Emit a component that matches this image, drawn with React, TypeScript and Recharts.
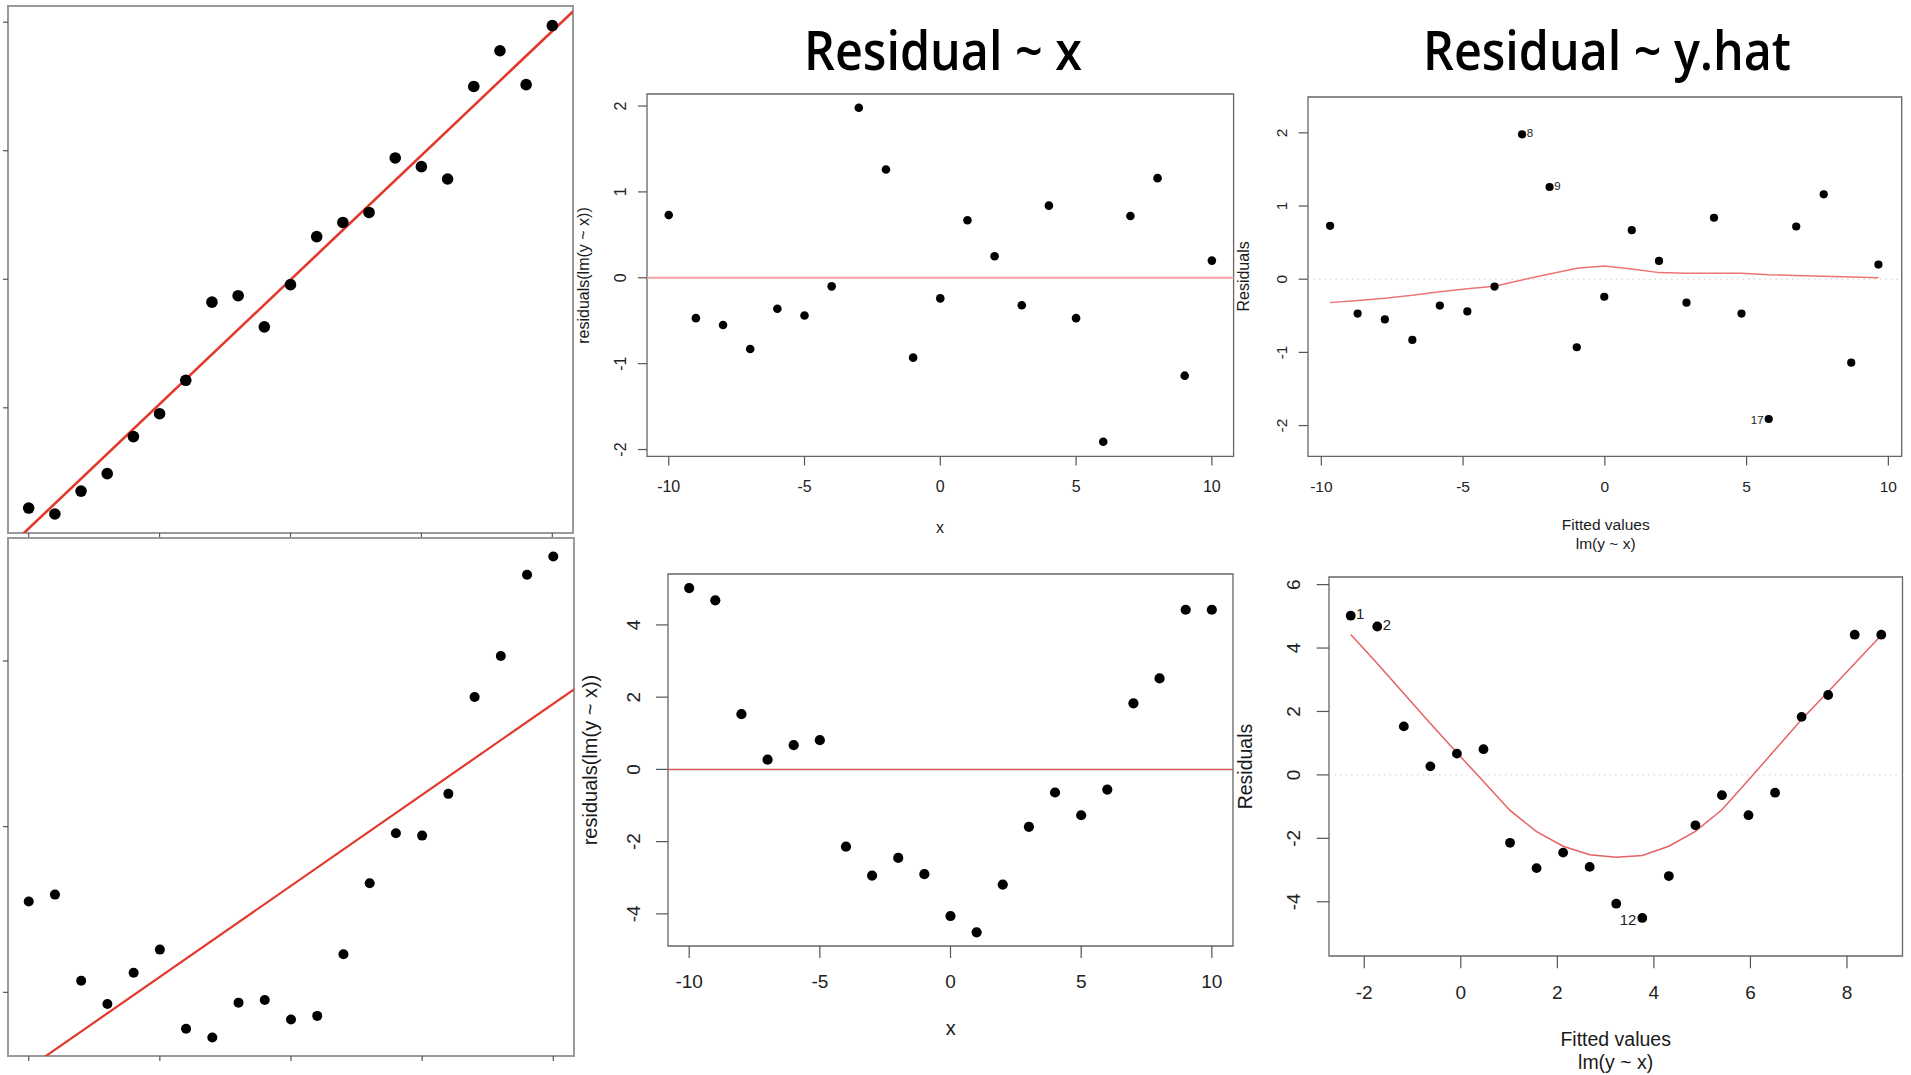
import React from "react";
import { ScatterChart, Scatter, XAxis, YAxis, ReferenceLine, ReferenceArea } from "recharts";

const FONT = '"Liberation Sans", Arial, Helvetica, sans-serif';
const TITLE_FONT = '"Open Sans", "DejaVu Sans", sans-serif';

// 21 observations, x = -10 .. 10
const xValues = [-10, -9, -8, -7, -6, -5, -4, -3, -2, -1, 0, 1, 2, 3, 4, 5, 6, 7, 8, 9, 10];

// --- linear case (top row) ---
const yLinear = [-8.9, -9.13, -8.24, -7.56, -6.12, -5.23, -3.93, -0.89, -0.64, -1.85, -0.21, 1.66, 2.21, 2.6, 4.72, 4.38, 3.9, 7.5, 8.89, 7.57, 9.87];
const fittedLinear = [-9.69, -8.72, -7.76, -6.79, -5.82, -4.85, -3.89, -2.92, -1.95, -0.99, -0.02, 0.95, 1.91, 2.88, 3.85, 4.82, 5.78, 6.75, 7.72, 8.69, 9.65];
const residLinear = [0.73, -0.47, -0.55, -0.83, -0.36, -0.44, -0.1, 1.98, 1.26, -0.93, -0.24, 0.67, 0.25, -0.32, 0.84, -0.47, -1.91, 0.72, 1.16, -1.14, 0.2];
const loessLinear = [-0.32, -0.29, -0.26, -0.22, -0.17, -0.13, -0.095, -0.01, 0.07, 0.15, 0.18, 0.14, 0.09, 0.08, 0.08, 0.08, 0.06, 0.05, 0.04, 0.03, 0.02];
const linearFit = { intercept: -0.02, slope: 0.9675 };
const flaggedLinear = [8, 9, 17];
const leftTagLinear = [17];

// --- quadratic case (bottom row) ---
const yQuad = [2.74, 2.95, 0.35, -0.35, 0.59, 1.29, -1.1, -1.36, -0.31, -0.23, -0.82, -0.71, 1.15, 3.29, 4.8, 4.73, 5.99, 8.91, 10.15, 12.6, 13.15];
const fittedQuad = [-2.28, -1.73, -1.18, -0.63, -0.08, 0.47, 1.02, 1.57, 2.12, 2.67, 3.22, 3.76, 4.31, 4.86, 5.41, 5.96, 6.51, 7.06, 7.61, 8.16, 8.71];
const residQuad = [5.02, 4.68, 1.53, 0.27, 0.67, 0.81, -2.14, -2.94, -2.45, -2.9, -4.06, -4.51, -3.19, -1.59, -0.64, -1.27, -0.56, 1.83, 2.52, 4.42, 4.42];
const loessQuad = [4.43, 3.51, 2.57, 1.62, 0.7, -0.21, -1.12, -1.79, -2.25, -2.52, -2.6, -2.54, -2.25, -1.78, -1.1, -0.16, 0.79, 1.75, 2.62, 3.51, 4.4];
const quadFit = { intercept: 3.215, slope: 0.5495 };
const flaggedQuad = [1, 2, 12];
const leftTagQuad = [12];

const ticksX10 = [-10, -5, 0, 5, 10];
const ticksFitQuad = [-2, 0, 2, 4, 6, 8];

const toPoints = (xs: number[], ys: number[], flagged: number[] = [], leftSide: number[] = []) =>
  xs.map((x, i) => ({
    x,
    y: ys[i],
    tag: flagged.includes(i + 1) ? String(i + 1) : "",
    left: leftSide.includes(i + 1),
  }));

const XTick = (props: any) => {
  const { x, y, payload, fs, show } = props;
  if (!show) return <g />;
  return (
    <text x={x} y={y + fs * 0.72} textAnchor="middle" fontSize={fs} fontFamily={FONT} fill="#222">
      {payload.value}
    </text>
  );
};

const YTick = (props: any) => {
  const { x, y, payload, fs, show } = props;
  if (!show) return <g />;
  return (
    <text x={x} y={y} transform={`rotate(-90 ${x} ${y})`} textAnchor="middle" fontSize={fs} fontFamily={FONT} fill="#222">
      {payload.value}
    </text>
  );
};

const dot = (r: number, tagFs = 12) => (props: any) => {
  const { cx, cy, payload } = props;
  return (
    <g>
      <circle cx={cx} cy={cy} r={r} fill="#000" />
      {payload.tag ? (
        <text
          x={payload.left ? cx - r - 1 : cx + r + 0.5}
          y={cy + (payload.left ? tagFs * 0.45 : tagFs * 0.25)}
          textAnchor={payload.left ? "end" : "start"}
          fontSize={tagFs}
          fontFamily={FONT}
          fill="#222"
        >
          {payload.tag}
        </text>
      ) : null}
    </g>
  );
};

const noShape = () => <g />;

type PanelProps = {
  box: { left: number; top: number; right: number; bottom: number };
  xDomain: [number, number];
  yDomain: [number, number];
  xTicks: number[];
  yTicks: number[];
  tickLen: number;
  fs: number;
  xGap: number;
  yGap: number;
  labels: boolean;
  frameColor: string;
  frameWidth: number;
  children: React.ReactNode;
};

const Panel = ({ box, xDomain, yDomain, xTicks, yTicks, tickLen, fs, xGap, yGap, labels, frameColor, frameWidth, children }: PanelProps) => {
  const padL = 70, padR = 12, padT = 12, padB = 70;
  const w = box.right - box.left;
  const h = box.bottom - box.top;
  return (
    <div style={{ position: "absolute", left: box.left - padL, top: box.top - padT }}>
      <ScatterChart width={w + padL + padR} height={h + padT + padB} margin={{ top: padT, right: padR, bottom: 0, left: 0 }}>
        <XAxis
          type="number"
          dataKey="x"
          domain={xDomain}
          ticks={xTicks}
          interval={0}
          allowDataOverflow
          height={padB}
          axisLine={false}
          stroke="#555"
          tickLine={{ stroke: "#555", strokeWidth: 1.2 }}
          tickSize={tickLen}
          tickMargin={xGap}
          tick={<XTick fs={fs} show={labels} />}
        />
        <YAxis
          type="number"
          dataKey="y"
          domain={yDomain}
          ticks={yTicks}
          interval={0}
          allowDataOverflow
          width={padL}
          axisLine={false}
          stroke="#555"
          tickLine={{ stroke: "#555", strokeWidth: 1.2 }}
          tickSize={tickLen}
          tickMargin={yGap}
          tick={<YTick fs={fs} show={labels} />}
        />
        <ReferenceArea
          x1={xDomain[0]}
          x2={xDomain[1]}
          y1={yDomain[0]}
          y2={yDomain[1]}
          fill="none"
          stroke={frameColor}
          strokeWidth={frameWidth}
          ifOverflow="visible"
        />
        {children}
      </ScatterChart>
    </div>
  );
};

const fitSegment = (fit: { intercept: number; slope: number }, xDomain: [number, number]) => [
  { x: xDomain[0], y: fit.intercept + fit.slope * xDomain[0] },
  { x: xDomain[1], y: fit.intercept + fit.slope * xDomain[1] },
];

const App = () => {
  const tlX: [number, number] = [-10.79, 10.79];
  const tlY: [number, number] = [-9.87, 10.63];
  const blY: [number, number] = [-1.92, 13.71];
  const tmX: [number, number] = [-10.8, 10.8];
  const tmY: [number, number] = [-2.08, 2.14];
  const trX: [number, number] = [-10.47, 10.47];
  const trY: [number, number] = [-2.42, 2.49];
  const bmX: [number, number] = [-10.81, 10.81];
  const bmY: [number, number] = [-4.89, 5.41];
  const brX: [number, number] = [-2.73, 9.15];
  const brY: [number, number] = [-5.71, 6.24];

  const text = (fs: number) => ({ fontSize: fs, fontFamily: FONT, fill: "#1a1a1a", textAnchor: "middle" as const, dominantBaseline: "central" as const });

  return (
    <div style={{ position: "absolute", left: 0, top: 0, width: 1911, height: 1075, overflow: "hidden", background: "#fff" }}>
      {/* raw data, linear relationship */}
      <Panel box={{ left: 8, top: 6, right: 573, bottom: 533 }} xDomain={tlX} yDomain={tlY} xTicks={ticksX10} yTicks={[-5, 0, 5, 10]}
        tickLen={5} fs={14} xGap={4} yGap={4} labels={false} frameColor="#9a9a9a" frameWidth={2}>
        <ReferenceLine segment={fitSegment(linearFit, tlX)} stroke="#e2392c" strokeWidth={2.6} ifOverflow="hidden" />
        <Scatter data={toPoints(xValues, yLinear)} shape={dot(5.8)} isAnimationActive={false} />
      </Panel>

      {/* raw data, quadratic relationship */}
      <Panel box={{ left: 8, top: 538, right: 574, bottom: 1056 }} xDomain={tlX} yDomain={blY} xTicks={ticksX10} yTicks={[0, 5, 10]}
        tickLen={5} fs={14} xGap={4} yGap={4} labels={false} frameColor="#9a9a9a" frameWidth={2}>
        <ReferenceLine segment={fitSegment(quadFit, tlX)} stroke="#e2392c" strokeWidth={2.2} ifOverflow="hidden" />
        <Scatter data={toPoints(xValues, yQuad)} shape={dot(5)} isAnimationActive={false} />
      </Panel>

      {/* residuals ~ x, linear */}
      <Panel box={{ left: 646.7, top: 94.3, right: 1233.3, bottom: 456.7 }} xDomain={tmX} yDomain={tmY} xTicks={ticksX10} yTicks={[-2, -1, 0, 1, 2]}
        tickLen={9} fs={16} xGap={15.5} yGap={12} labels frameColor="#666" frameWidth={1.3}>
        <ReferenceLine y={0} stroke="#f3a3a3" strokeWidth={2} />
        <Scatter data={toPoints(xValues, residLinear)} shape={dot(4.3)} isAnimationActive={false} />
      </Panel>

      {/* residuals ~ fitted, linear */}
      <Panel box={{ left: 1308.3, top: 96.7, right: 1902, bottom: 456 }} xDomain={trX} yDomain={trY} xTicks={ticksX10} yTicks={[-2, -1, 0, 1, 2]}
        tickLen={9.3} fs={15.5} xGap={15} yGap={11.5} labels frameColor="#666" frameWidth={1.3}>
        <ReferenceLine y={0} stroke="#cccccc" strokeWidth={1} strokeDasharray="1.5 4" />
        <Scatter data={toPoints(fittedLinear, loessLinear)} shape={noShape} line={{ stroke: "#ee7474", strokeWidth: 1.5 }} lineType="joint" isAnimationActive={false} />
        <Scatter data={toPoints(fittedLinear, residLinear, flaggedLinear, leftTagLinear)} shape={dot(4.1, 11.5)} isAnimationActive={false} />
      </Panel>

      {/* residuals ~ x, quadratic */}
      <Panel box={{ left: 668.3, top: 574, right: 1233.3, bottom: 946 }} xDomain={bmX} yDomain={bmY} xTicks={ticksX10} yTicks={[-4, -2, 0, 2, 4]}
        tickLen={12} fs={19} xGap={16} yGap={15.5} labels frameColor="#666" frameWidth={1.3}>
        <ReferenceLine y={0} stroke="#d35a5a" strokeWidth={1.5} />
        <Scatter data={toPoints(xValues, residQuad)} shape={dot(5.1)} isAnimationActive={false} />
      </Panel>

      {/* residuals ~ fitted, quadratic */}
      <Panel box={{ left: 1328.5, top: 577, right: 1902, bottom: 956 }} xDomain={brX} yDomain={brY} xTicks={ticksFitQuad} yTicks={[-4, -2, 0, 2, 4, 6]}
        tickLen={12.3} fs={19} xGap={17.5} yGap={17} labels frameColor="#666" frameWidth={1.3}>
        <ReferenceLine y={0} stroke="#cccccc" strokeWidth={1} strokeDasharray="1.5 4" />
        <Scatter data={toPoints(fittedQuad, loessQuad)} shape={noShape} line={{ stroke: "#e66262", strokeWidth: 1.5 }} lineType="joint" isAnimationActive={false} />
        <Scatter data={toPoints(fittedQuad, residQuad, flaggedQuad, leftTagQuad)} shape={dot(4.9, 15)} isAnimationActive={false} />
      </Panel>

      {/* titles and axis labels */}
      <svg width={1911} height={1075} style={{ position: "absolute", left: 0, top: 0, pointerEvents: "none" }}>
        <text x={943} y={70} textAnchor="middle" fontSize={55} fontWeight={600} fontFamily={TITLE_FONT} fill="#000" textLength={278} lengthAdjust="spacingAndGlyphs">
          Residual ~ x
        </text>
        <text x={1607} y={70} textAnchor="middle" fontSize={55} fontWeight={600} fontFamily={TITLE_FONT} fill="#000" textLength={368} lengthAdjust="spacingAndGlyphs">
          Residual ~ y.hat
        </text>

        <text x={940} y={527} {...text(16)}>x</text>
        <text x={583} y={275.5} transform="rotate(-90 583 275.5)" {...text(16)}>residuals(lm(y ~ x))</text>

        <text x={1244} y={276.4} transform="rotate(-90 1244 276.4)" {...text(16)}>Residuals</text>
        <text x={1605.7} y={524} {...text(15.5)}>Fitted values</text>
        <text x={1605.7} y={543} {...text(15.5)}>lm(y ~ x)</text>

        <text x={950.8} y={1027.5} {...text(20)}>x</text>
        <text x={590} y={760} transform="rotate(-90 590 760)" {...text(20)}>residuals(lm(y ~ x))</text>

        <text x={1245} y={766.5} transform="rotate(-90 1245 766.5)" {...text(19.5)}>Residuals</text>
        <text x={1615.7} y={1039} {...text(19.5)}>Fitted values</text>
        <text x={1615.7} y={1062} {...text(19.5)}>lm(y ~ x)</text>
      </svg>
    </div>
  );
};

export default App;
